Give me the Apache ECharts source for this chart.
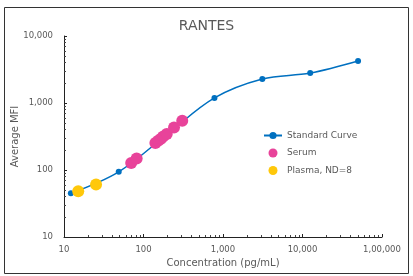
<!DOCTYPE html>
<html>
<head>
<meta charset="utf-8">
<script src="https://cdn.jsdelivr.net/npm/echarts@6/dist/echarts.min.js"></script>
<style>
  html, body { margin: 0; padding: 0; background: #fff; }
  #chart { width: 413px; height: 276px; }
</style>
</head>
<body>
<div id="chart"></div>
<script>
// standard curve (4-fold dilutions)
var stdConc = [12.2, 48.8, 195, 781, 3125, 12500, 50000];
var stdMfi = [45, 94, 335, 1190, 2280, 2800, 4240];
// samples
var serumConc = [70, 82, 141, 153, 166, 177, 196, 242, 307];
var serumMfi = [127, 148, 253, 274, 293, 317, 344, 432, 544];
var plasmaConc = [15.1, 25.3];
var plasmaMfi = [48, 61];
var xTickLabels = {10: '10', 100: '100', 1000: '1,000', 10000: '10,000', 100000: '1,00,000'};
var yTickLabels = {10: '10', 100: '100', 1000: '1,000', 10000: '10,000'};

function pairs(xs, ys) {
  return xs.map(function (x, i) { return [x, ys[i]]; });
}

var font = 'DejaVu Sans';
var grey = '#595959';

var chart = echarts.init(document.getElementById('chart'));
var option = {
  animation: false,
  textStyle: { fontFamily: font },
  title: {
    text: 'RANTES',
    left: 'center',
    top: 14,
    textStyle: { fontSize: 14, fontWeight: 'normal', color: grey, fontFamily: font }
  },
  grid: { left: 64, right: 31, top: 36, bottom: 39, outerBoundsMode: 'none', containLabel: false },
  legend: {
    orient: 'vertical',
    left: 263,
    top: 131,
    padding: 0,
    itemGap: 8.5,
    itemWidth: 18,
    itemHeight: 9,
    textStyle: { fontSize: 9, color: grey, fontFamily: font },
    data: [
      { name: 'Standard Curve' },
      { name: 'Serum', icon: 'circle' },
      { name: 'Plasma, ND=8', icon: 'circle' }
    ]
  },
  graphic: [{
    type: 'rect',
    shape: { x: 4.5, y: 7.5, width: 404, height: 266 },
    style: { fill: 'none', stroke: '#333', lineWidth: 1 },
    silent: true
  }],
  xAxis: {
    type: 'log',
    logBase: 10,
    min: 10,
    max: 100000,
    name: 'Concentration (pg/mL)',
    nameLocation: 'middle',
    nameGap: 21,
    nameMoveOverlap: false,
    nameTextStyle: { fontSize: 10, color: grey, fontFamily: font },
    axisLine: { lineStyle: { color: '#222', width: 1 } },
    axisTick: { inside: true, length: 3, lineStyle: { color: '#222' } },
    minorTick: { show: true, splitNumber: 9, length: 2, lineStyle: { color: '#444' } },
    splitLine: { show: false },
    axisLabel: {
      fontSize: 8.5, color: grey, margin: 8, fontFamily: font,
      formatter: function (v) { return xTickLabels[Math.round(v)] || ''; }
    }
  },
  yAxis: {
    type: 'log',
    logBase: 10,
    min: 10,
    max: 10000,
    name: 'Average MFI',
    nameLocation: 'middle',
    nameGap: 44,
    nameMoveOverlap: false,
    nameTextStyle: { fontSize: 10, color: grey, fontFamily: font },
    axisLine: { show: true, lineStyle: { color: '#222', width: 1 } },
    axisTick: { show: true, inside: true, length: 3, lineStyle: { color: '#222' } },
    minorTick: { show: true, splitNumber: 9, length: 2, lineStyle: { color: '#444' } },
    splitLine: { show: false },
    axisLabel: {
      fontSize: 8.5, color: grey, margin: 11, fontFamily: font,
      formatter: function (v) { return yTickLabels[Math.round(v)] || ''; }
    }
  },
  series: [
    {
      name: 'Standard Curve',
      type: 'line',
      smooth: 0.35,
      data: pairs(stdConc, stdMfi),
      symbol: 'circle',
      symbolSize: 6,
      lineStyle: { color: '#0070C0', width: 1.5 },
      itemStyle: { color: '#0070C0' },
      z: 2
    },
    {
      name: 'Serum',
      type: 'scatter',
      data: pairs(serumConc, serumMfi),
      symbolSize: 12,
      itemStyle: { color: '#E8439A', opacity: 1 },
      z: 3
    },
    {
      name: 'Plasma, ND=8',
      type: 'scatter',
      data: pairs(plasmaConc, plasmaMfi),
      symbolSize: 12,
      itemStyle: { color: '#FFC80A', opacity: 1 },
      z: 3
    }
  ]
};
chart.setOption(option);
</script>
</body>
</html>
